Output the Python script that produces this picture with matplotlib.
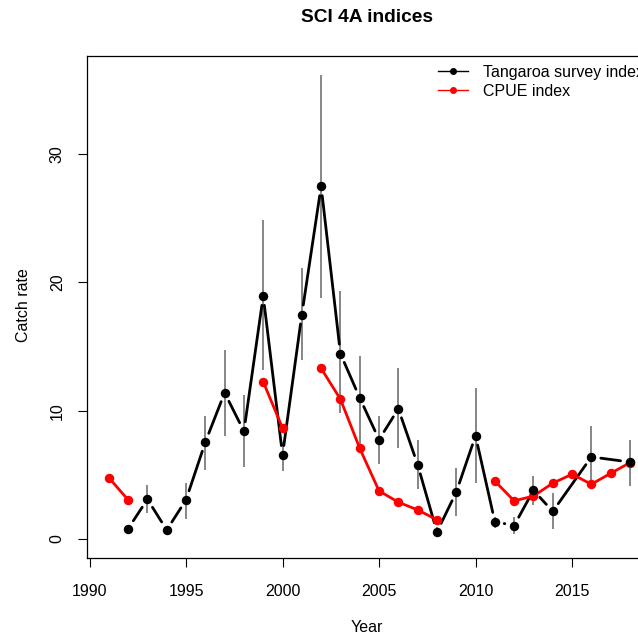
import numpy as np
import matplotlib.pyplot as plt
from matplotlib.lines import Line2D

plt.rcParams['font.family'] = ['Liberation Sans', 'DejaVu Sans']

# Tangaroa survey index with CI bounds
survey_years = [1992, 1993, 1994, 1995, 1996, 1997, 1998, 1999, 2000, 2001, 2002, 2003,
                2004, 2005, 2006, 2007, 2008, 2009, 2010, 2011, 2012, 2013, 2014, 2016, 2018]
survey_index = [0.8, 3.1, 0.7, 3.05, 7.55, 11.4, 8.4, 18.95, 6.55, 17.5, 27.5, 14.45,
                11.0, 7.75, 10.15, 5.8, 0.55, 3.65, 8.05, 1.35, 1.05, 3.8, 2.15, 6.4, 6.0]
survey_lower = [0.5, 2.0, 0.45, 1.55, 5.4, 8.05, 5.6, 13.15, 5.3, 13.95, 18.8, 9.85,
                7.4, 5.85, 7.1, 3.9, 0.2, 1.8, 4.4, 0.85, 0.4, 2.65, 0.8, 3.95, 4.1]
survey_upper = [1.1, 4.2, 0.95, 4.4, 9.6, 14.7, 11.2, 24.85, 7.6, 21.1, 36.2, 19.3,
                14.3, 9.6, 13.3, 7.7, 0.95, 5.5, 11.75, 1.75, 1.7, 4.9, 3.55, 8.8, 7.7]

# CPUE index
cpue_years = [1991, 1992, 1999, 2000, 2002, 2003, 2004, 2005, 2006, 2007, 2008,
              2011, 2012, 2013, 2014, 2015, 2016, 2017, 2018]
cpue_index = [4.78, 3.05, 12.25, 8.65, 13.3, 10.9, 7.07, 3.75, 2.87, 2.27, 1.5,
              4.52, 2.97, 3.35, 4.35, 5.05, 4.27, 5.12, 5.95]

W, H = 638, 635
fig = plt.figure(figsize=(W / 100, H / 100), dpi=100)
left, right, top, bottom = 87, 651, 56, 558
ax = fig.add_axes([left / W, 1 - bottom / H, (right - left) / W, (bottom - top) / H])
ax.set_xlim(1989.87, 2019.09)
ax.set_ylim(-1.48, 37.65)

# error bars
ax.vlines(survey_years, survey_lower, survey_upper, color='#666666', lw=1.1, zorder=1)

# survey line drawn R "type b" style: segments stop short of the points
gap = 9.5
pts = ax.transData.transform(np.column_stack([survey_years, survey_index]))
inv = ax.transData.inverted()
for p1, p2 in zip(pts[:-1], pts[1:]):
    d = p2 - p1
    L = np.hypot(*d)
    if L <= 2 * gap:
        continue
    a = inv.transform(p1 + d / L * gap)
    b = inv.transform(p2 - d / L * gap)
    ax.plot([a[0], b[0]], [a[1], b[1]], color='black', lw=2.0,
            solid_capstyle='round', zorder=2)
ax.plot(survey_years, survey_index, 'o', color='black', ms=5.8, zorder=4)

# CPUE line, broken where years are missing
cy = np.array(cpue_years, dtype=float)
cv = np.array(cpue_index, dtype=float)
breaks = np.where(np.diff(cy) > 1)[0] + 1
for seg_y, seg_v in zip(np.split(cy, breaks), np.split(cv, breaks)):
    ax.plot(seg_y, seg_v, '-o', color='red', lw=2.0, ms=5.8, zorder=3)

ax.set_xticks([1990, 1995, 2000, 2005, 2010, 2015])
ax.set_yticks([0, 10, 20, 30])
ax.tick_params(direction='out', length=6.5, width=0.8, labelsize=11.5, colors='black')
ax.tick_params(axis='x', pad=12)
ax.tick_params(axis='y', pad=9.5, labelrotation=90)
for lab in ax.get_yticklabels():
    lab.set_va('center')
for s in ax.spines.values():
    s.set_linewidth(0.9)
    s.set_color('black')

fig.text(367 / W, 1 - 18 / H, 'SCI 4A indices', ha='center', va='center',
         fontsize=13.8, fontweight='bold')
fig.text(367 / W, 1 - 627 / H, 'Year', ha='center', va='center', fontsize=11.5)
fig.text(24 / W, 1 - 305 / H, 'Catch rate', ha='center', va='center',
         rotation=90, fontsize=11.5)

handles = [Line2D([], [], color='black', lw=1.0, marker='o', ms=4),
           Line2D([], [], color='red', lw=1.0, marker='o', ms=4)]
ax.legend(handles, ['Tangaroa survey index', 'CPUE index'], frameon=False,
          fontsize=11.5, handlelength=1.9, handletextpad=0.9, labelspacing=0.25,
          borderpad=0, borderaxespad=0, loc='upper left',
          bbox_to_anchor=(438 / W, 1 - 65 / H), bbox_transform=fig.transFigure)

fig.savefig('out.png', dpi=100)
